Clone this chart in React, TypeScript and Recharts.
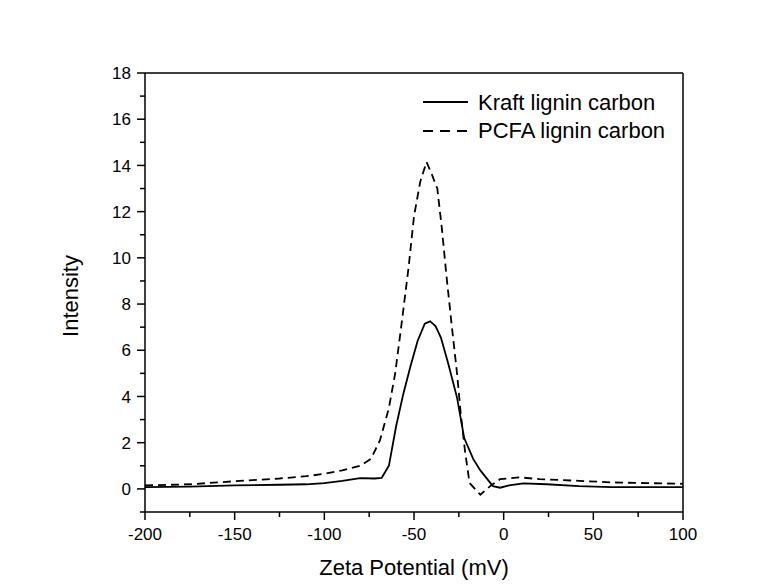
import { LineChart, Line, XAxis, YAxis, ReferenceLine, Customized } from "recharts";

// Zeta potential distributions
const kraftX = [-200, -175, -150, -125, -110, -100, -90, -80, -72, -68, -64, -60, -56, -52, -48, -44, -41, -38, -35, -31, -26, -22, -17, -13, -6, -2, 3, 11, 24, 42, 60, 100];
const kraftY = [0.08, 0.1, 0.15, 0.18, 0.2, 0.25, 0.35, 0.47, 0.45, 0.48, 1.0, 2.7, 4.1, 5.3, 6.4, 7.15, 7.25, 7.05, 6.55, 5.45, 3.95, 2.2, 1.3, 0.8, 0.12, 0.05, 0.15, 0.24, 0.2, 0.12, 0.08, 0.08];

const pcfaX = [-200, -175, -150, -125, -110, -100, -90, -80, -74, -69, -64, -60.5, -57, -53, -50, -46.5, -43, -40, -37, -34.5, -32, -29, -26, -24, -21.5, -19, -13, -7.5, -2, 9, 20, 42, 60, 100];
const pcfaY = [0.15, 0.2, 0.33, 0.45, 0.55, 0.65, 0.8, 1.0, 1.3, 2.1, 3.5, 5.0, 7.1, 9.6, 11.8, 13.3, 14.15, 13.6, 13.0, 11.3, 9.3, 7.1, 5.0, 3.3, 1.6, 0.25, -0.25, 0.12, 0.42, 0.5, 0.42, 0.35, 0.28, 0.22];

const xTicks = [-200, -175, -150, -125, -100, -75, -50, -25, 0, 25, 50, 75, 100];
const xLabeled = [-200, -150, -100, -50, 0, 50, 100];
const yTicks = [-1, 0, 1, 2, 3, 4, 5, 6, 7, 8, 9, 10, 11, 12, 13, 14, 15, 16, 17, 18];
const yLabeled = [0, 2, 4, 6, 8, 10, 12, 14, 16, 18];

const seriesNames = ["Kraft lignin carbon", "PCFA lignin carbon"];

const kraft = kraftX.map((x, i) => ({ x, y: kraftY[i] }));
const pcfa = pcfaX.map((x, i) => ({ x, y: pcfaY[i] }));

const FONT = "'Liberation Sans', Arial, sans-serif";

function XTick({ x, y, payload }: any) {
  const major = xLabeled.includes(payload.value);
  return (
    <g>
      <line x1={x} x2={x} y1={y} y2={y + (major ? 8 : 5)} stroke="#000" strokeWidth={1.5} />
      {major && (
        <text x={x} y={y + 28} textAnchor="middle" fontSize={17} fontFamily={FONT} fill="#000">
          {payload.value}
        </text>
      )}
    </g>
  );
}

function YTick({ x, y, payload }: any) {
  const major = yLabeled.includes(payload.value);
  return (
    <g>
      <line x1={x} x2={x - (major ? 8 : 5)} y1={y} y2={y} stroke="#000" strokeWidth={1.5} />
      {major && (
        <text x={x - 14} y={y} dy="0.36em" textAnchor="end" fontSize={17} fontFamily={FONT} fill="#000">
          {payload.value}
        </text>
      )}
    </g>
  );
}

function Decorations() {
  return (
    <g fontFamily={FONT} fill="#000">
      <text x={414} y={575} textAnchor="middle" fontSize={22}>Zeta Potential (mV)</text>
      <text x={78} y={296} textAnchor="middle" fontSize={22} transform="rotate(-90 78 296)">Intensity</text>
      <line x1={423} x2={468} y1={102} y2={102} stroke="#000" strokeWidth={1.8} />
      <text x={478} y={110} fontSize={22}>{seriesNames[0]}</text>
      <line x1={423} x2={468} y1={131} y2={131} stroke="#000" strokeWidth={1.8} strokeDasharray="10 7" />
      <text x={478} y={137.5} fontSize={22}>{seriesNames[1]}</text>
    </g>
  );
}

export default function App() {
  return (
    <div style={{ position: "absolute", left: 0, top: 0, width: 775, height: 586, background: "#fff" }}>
      <LineChart width={775} height={586} margin={{ top: 73, right: 92, bottom: 44, left: 85 }}>
        <XAxis
          type="number"
          dataKey="x"
          domain={[-200, 100]}
          ticks={xTicks}
          allowDataOverflow
          height={30}
          tickSize={0}
          tickMargin={0}
          tickLine={false}
          axisLine={{ stroke: "#000", strokeWidth: 1.5 }}
          tick={<XTick />}
          interval={0}
        />
        <YAxis
          type="number"
          dataKey="y"
          domain={[-1, 18]}
          ticks={yTicks}
          allowDataOverflow
          width={60}
          tickSize={0}
          tickMargin={0}
          tickLine={false}
          axisLine={{ stroke: "#000", strokeWidth: 1.5 }}
          tick={<YTick />}
          interval={0}
        />
        <ReferenceLine y={18} stroke="#000" strokeWidth={1.5} />
        <ReferenceLine x={100} stroke="#000" strokeWidth={1.5} />
        <Line data={kraft} dataKey="y" name={seriesNames[0]} type="linear" stroke="#000" strokeWidth={1.8} dot={false} isAnimationActive={false} />
        <Line data={pcfa} dataKey="y" name={seriesNames[1]} type="linear" stroke="#000" strokeWidth={1.8} strokeDasharray="8 5" dot={false} isAnimationActive={false} />
        <Customized component={Decorations} />
      </LineChart>
    </div>
  );
}
